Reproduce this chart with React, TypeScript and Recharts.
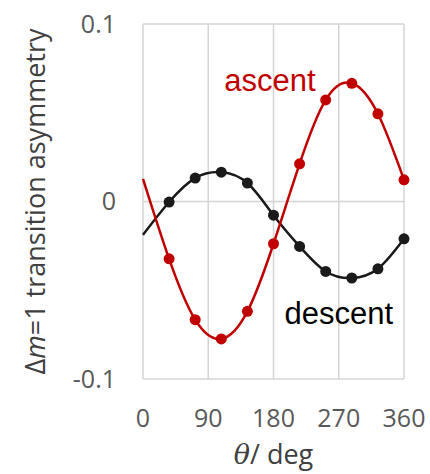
import { LineChart, Line, XAxis, YAxis, CartesianGrid, ReferenceDot } from "recharts";

// rotation angle (deg) and the two asymmetry curves
const THETA = [0, 36, 72, 108, 144, 180, 216, 252, 288, 324, 360];
const ASCENT = [0.0128, -0.0323, -0.0666, -0.0774, -0.0619, -0.0238, 0.0212, 0.0572, 0.0666, 0.0494, 0.0122];
const DESCENT = [-0.0188, -0.0003, 0.0132, 0.0165, 0.0104, -0.0077, -0.0253, -0.0394, -0.0431, -0.0379, -0.021];

const X_TICKS = [0, 90, 180, 270, 360];
const Y_TICKS = [-0.1, 0, 0.1];
const Y_TICK_LABELS = ["-0.1", "0", "0.1"];

const RED = "#C00000";
const BLACK = "#1A1A1A";
const GRID = "#D4D4D4";
const TICK_FONT = { fontSize: 25, fill: "#595959", fontFamily: "'Open Sans', sans-serif" };
const NOTE_FONT = "'Liberation Sans', Arial, sans-serif";

const data = THETA.map((t, i) => ({ theta: t, ascent: ASCENT[i], descent: DESCENT[i] }));

// no marker at theta = 0, the curve just runs in from the edge
const makeDot = (color: string) => (p: any) => {
  if (p.index === 0) return <g key={`dot-${p.index}`} />;
  return <circle key={`dot-${p.index}`} cx={p.cx} cy={p.cy} r={5.5} fill={color} />;
};

const noteLabel = (text: string, color: string) => (p: any) => {
  const vb = p.viewBox;
  return (
    <text x={vb.x + vb.width / 2} y={vb.y + vb.height / 2} textAnchor="middle"
      fontSize={31} fontFamily={NOTE_FONT} fill={color}>
      {text}
    </text>
  );
};

export default function App() {
  return (
    <div style={{ position: "absolute", left: 0, top: 0, background: "#fff" }}>
      <LineChart width={430} height={474} data={data}
        margin={{ top: 24, right: 26, bottom: 20, left: 0 }}>
        <CartesianGrid stroke={GRID} strokeWidth={1.5} />
        <XAxis dataKey="theta" type="number" domain={[0, 360]} ticks={X_TICKS}
          axisLine={false} tickLine={false} tickSize={0} tickMargin={30} height={75}
          tick={TICK_FONT} interval={0}
          label={{
            content: (p: any) => {
              const vb = p.viewBox;
              return (
                <text x={vb.x + vb.width / 2} y={vb.y + 85} textAnchor="middle"
                  fontSize={27} fill="#404040" fontFamily="'Open Sans', sans-serif">
                  <tspan fontStyle="italic" fontFamily="'DejaVu Serif', serif">θ</tspan>
                  <tspan>/ deg</tspan>
                </text>
              );
            },
          }} />
        <YAxis type="number" domain={[-0.1, 0.1]} ticks={Y_TICKS} width={143}
          axisLine={false} tickLine={false} tickSize={0} tickMargin={27}
          tick={TICK_FONT} interval={0}
          tickFormatter={(v: number) => Y_TICK_LABELS[Y_TICKS.indexOf(v)] ?? String(v)}
          label={{
            content: (p: any) => {
              const vb = p.viewBox;
              const cx = vb.x + 45;
              const cy = vb.y + vb.height / 2;
              return (
                <text x={cx} y={cy} textAnchor="middle" transform={`rotate(-90 ${cx} ${cy})`}
                  fontSize={27} fill="#404040" fontFamily="'Open Sans', sans-serif">
                  <tspan>Δ</tspan>
                  <tspan fontStyle="italic">m</tspan>
                  <tspan>=1 transition asymmetry</tspan>
                </text>
              );
            },
          }} />
        <Line type="natural" dataKey="descent" stroke={BLACK} strokeWidth={2.5}
          dot={makeDot(BLACK)} activeDot={false} isAnimationActive={false} />
        <Line type="natural" dataKey="ascent" stroke={RED} strokeWidth={2.5}
          dot={makeDot(RED)} activeDot={false} isAnimationActive={false} />
        <ReferenceDot x={175} y={0.062} r={1} fill="none" stroke="none"
          label={{ content: noteLabel("ascent", RED) }} />
        <ReferenceDot x={270} y={-0.069} r={1} fill="none" stroke="none"
          label={{ content: noteLabel("descent", "#000") }} />
      </LineChart>
    </div>
  );
}
